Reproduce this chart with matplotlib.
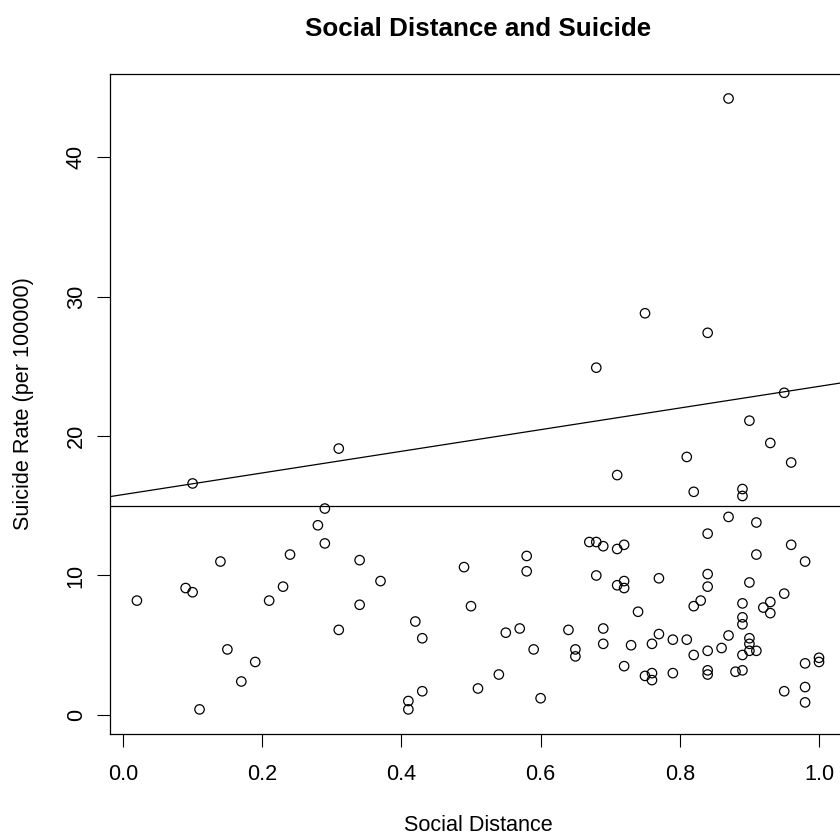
import numpy as np
import matplotlib
matplotlib.use("Agg")
import matplotlib.pyplot as plt

plt.rcParams['font.family'] = ['Liberation Sans', 'DejaVu Sans']

# values
social_distance = [
    0.02, 0.10, 0.31, 0.29, 0.28, 0.29, 0.24, 0.14, 0.09, 0.10,
    0.23, 0.21, 0.31, 0.15, 0.19, 0.17, 0.11,
    0.34, 0.37, 0.34, 0.42, 0.43, 0.41, 0.41, 0.43, 0.49, 0.50,
    0.58, 0.58, 0.55, 0.57, 0.59, 0.54, 0.51, 0.60, 0.64, 0.65,
    0.65, 0.69, 0.69, 0.67, 0.68, 0.69, 0.68,
    0.82, 0.89, 0.89, 0.87, 0.91, 0.84, 0.71, 0.72, 0.96, 0.98,
    0.91, 0.71, 0.72, 0.72, 0.77, 0.84, 0.84, 0.90, 0.95, 0.83,
    0.82, 0.89, 0.92, 0.93, 0.93, 0.89, 0.89, 0.74, 0.77, 0.76,
    0.73, 0.79, 0.81, 0.87, 0.86, 0.84, 0.82, 0.90, 0.90, 0.90,
    0.91, 0.89, 0.72, 0.75, 0.76, 0.76, 0.79, 0.84, 0.84, 0.88,
    0.89, 0.98, 1.00, 1.00, 0.95, 0.98, 0.98,
    0.87, 0.75, 0.84, 0.95, 0.90, 0.93, 0.81, 0.96, 0.68, 0.71,
]
suicide_rate = [
    8.2, 16.6, 19.1, 14.8, 13.6, 12.3, 11.5, 11.0, 9.1, 8.8,
    9.2, 8.2, 6.1, 4.7, 3.8, 2.4, 0.4,
    11.1, 9.6, 7.9, 6.7, 5.5, 1.0, 0.4, 1.7, 10.6, 7.8,
    11.4, 10.3, 5.9, 6.2, 4.7, 2.9, 1.9, 1.2, 6.1, 4.7,
    4.2, 6.2, 5.1, 12.4, 12.4, 12.1, 10.0,
    16.0, 16.2, 15.7, 14.2, 13.8, 13.0, 11.9, 12.2, 12.2, 11.0,
    11.5, 9.3, 9.6, 9.1, 9.8, 10.1, 9.2, 9.5, 8.7, 8.2,
    7.8, 8.0, 7.7, 8.1, 7.3, 7.0, 6.5, 7.4, 5.8, 5.1,
    5.0, 5.4, 5.4, 5.7, 4.8, 4.6, 4.3, 5.5, 5.1, 4.6,
    4.6, 4.3, 3.5, 2.8, 3.0, 2.5, 3.0, 3.2, 2.9, 3.1,
    3.2, 3.7, 4.1, 3.8, 1.7, 2.0, 0.9,
    44.2, 28.8, 27.4, 23.1, 21.1, 19.5, 18.5, 18.1, 24.9, 17.2,
]

line_intercept = 15.80
line_slope = 7.76
h_line = 15.0

x = np.array(social_distance)
y = np.array(suicide_rate)

fig = plt.figure(figsize=(8.4, 8.32), dpi=100)
ax = fig.add_axes([0.1305, 0.118, 0.877, 0.793])

ax.scatter(x, y, s=46, facecolors='none', edgecolors='black', linewidths=0.9, zorder=3)

# R style 4% padding
xpad = 0.04 * (x.max() - x.min())
ypad = 0.04 * (y.max() - y.min())
ax.set_xlim(x.min() - xpad, x.max() + xpad)
ax.set_ylim(y.min() - ypad, y.max() + ypad)

ax.axline((0, line_intercept), slope=line_slope, color='black', linewidth=0.9)
ax.axhline(h_line, color='black', linewidth=0.9)

ax.set_xticks([0.0, 0.2, 0.4, 0.6, 0.8, 1.0])
ax.set_xticklabels(['0.0', '0.2', '0.4', '0.6', '0.8', '1.0'])
ax.set_yticks([0, 10, 20, 30, 40])
ax.set_yticklabels(['0', '10', '20', '30', '40'], rotation=90, va='center')

ax.tick_params(axis='both', direction='out', length=9.4, width=0.8, labelsize=15.6, colors='black')
ax.tick_params(axis='x', pad=12)
ax.tick_params(axis='y', pad=7)
for s in ax.spines.values():
    s.set_linewidth(0.9)
    s.set_color('black')

ax.set_xlabel('Social Distance', fontsize=15.6)
ax.xaxis.set_label_coords(0.5, -0.1394)
ax.xaxis.label.set_va('center')
ax.set_ylabel('Suicide Rate (per 100000)', fontsize=15.6)
ax.yaxis.set_label_coords(-0.1165, 0.5)
ax.yaxis.label.set_va('center')

ax.text(0.5, 1.068, 'Social Distance and Suicide', transform=ax.transAxes,
        ha='center', va='center', fontsize=18.7, fontweight='bold')

fig.savefig('out.png', dpi=100)
